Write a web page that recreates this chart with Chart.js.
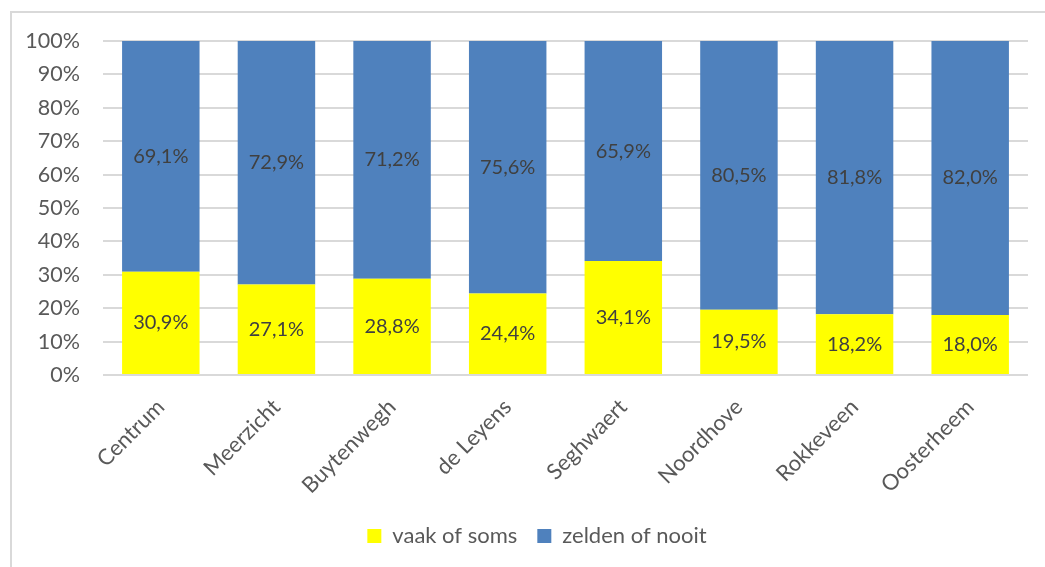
<!DOCTYPE html>
<html>
<head>
<meta charset="utf-8">
<script src="https://cdn.jsdelivr.net/npm/chart.js@4/dist/chart.umd.min.js"></script>
<style>
  html, body { margin: 0; padding: 0; background: #fff; overflow: hidden; }
  #frame { position: absolute; left: 10px; top: 11px; width: 1100px; height: 620px; border: 2px solid #d9d9d9; box-sizing: border-box; }
  #wrap { position: absolute; left: 0; top: 0; width: 1045px; height: 567px; }
</style>
</head>
<body>
<div id="frame"></div>
<div id="wrap"><canvas id="c" width="1045" height="567"></canvas></div>
<script>
const categories = ["Centrum", "Meerzicht", "Buytenwegh", "de Leyens", "Seghwaert", "Noordhove", "Rokkeveen", "Oosterheem"];
const vaakOfSoms = [30.9, 27.1, 28.8, 24.4, 34.1, 19.5, 18.2, 18.0];
const zeldenOfNooit = [69.1, 72.9, 71.2, 75.6, 65.9, 80.5, 81.8, 82.0];
const yTicks = [0, 10, 20, 30, 40, 50, 60, 70, 80, 90, 100];

const FONT = "Lato, 'Liberation Sans', sans-serif";

const labelPlugin = {
  id: 'segLabels',
  afterLayout(chart) {
    if (chart.legend) { chart.legend.left += 23; chart.legend.right += 23; }
  },
  afterDatasetsDraw(chart) {
    const ctx = chart.ctx;
    ctx.save();
    ctx.font = "20px " + FONT;
    ctx.fillStyle = '#404040';
    ctx.textAlign = 'center';
    ctx.textBaseline = 'middle';
    chart.data.datasets.forEach((ds, di) => {
      const meta = chart.getDatasetMeta(di);
      meta.data.forEach((el, i) => {
        const v = ds.data[i];
        const y = (el.y + el.base) / 2;
        ctx.fillText(v.toFixed(1).replace('.', ',') + '%', el.x, y);
      });
    });
    ctx.restore();
  }
};

new Chart(document.getElementById('c'), {
  type: 'bar',
  data: {
    labels: categories,
    datasets: [
      { label: 'vaak of soms', data: vaakOfSoms, backgroundColor: '#FFFF00', borderWidth: 0 },
      { label: 'zelden of nooit', data: zeldenOfNooit, backgroundColor: '#4F81BD', borderWidth: 0 }
    ]
  },
  options: {
    responsive: false,
    animation: false,
    devicePixelRatio: 1,
    layout: { padding: { left: 0, right: 17, top: 41, bottom: 10 } },
    datasets: { bar: { categoryPercentage: 1.0, barPercentage: 0.67 } },
    scales: {
      x: {
        stacked: true,
        grid: { display: false, drawTicks: false },
        border: { display: false },
        ticks: {
          autoSkip: false, maxRotation: 45, minRotation: 45,
          color: '#595959', font: { family: FONT, size: 22 }, padding: 19
        },
        afterFit(scale) { scale.height = 130; }
      },
      y: {
        stacked: true,
        min: 0, max: 100,
        afterBuildTicks(scale) { scale.ticks = yTicks.map(v => ({ value: v })); },
        grid: { color: '#d9d9d9', lineWidth: 2, drawTicks: false },
        border: { display: false },
        ticks: {
          color: '#595959', font: { family: FONT, size: 21.5 }, padding: 23,
          callback: v => v + '%'
        },
        afterFit(scale) { scale.width = 103; }
      }
    },
    plugins: {
      legend: {
        position: 'bottom',
        labels: {
          boxWidth: 14, boxHeight: 14, color: '#595959',
          font: { family: FONT, size: 22 }, padding: 20
        }
      },
      tooltip: { enabled: false }
    }
  },
  plugins: [labelPlugin]
});
</script>
</body>
</html>
